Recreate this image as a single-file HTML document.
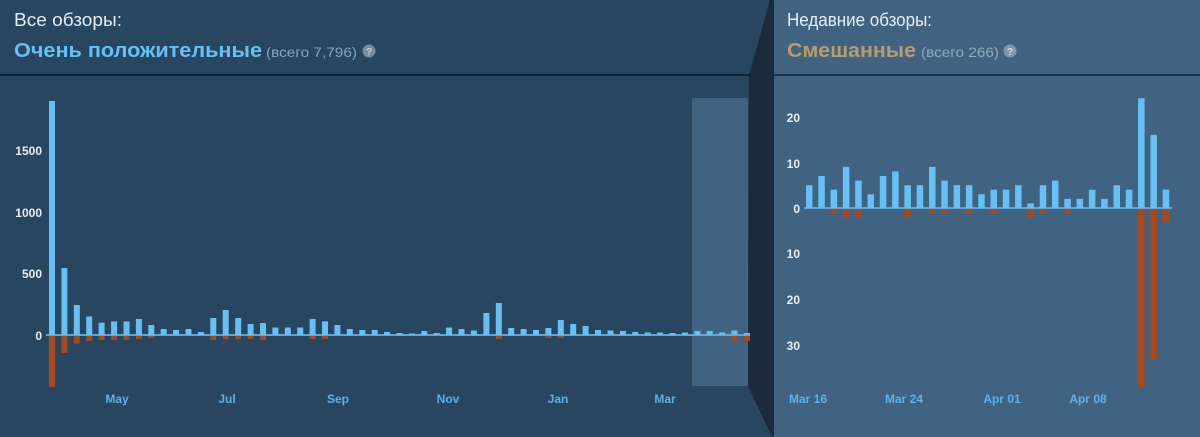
<!DOCTYPE html>
<html><head><meta charset="utf-8"><style>
html,body{margin:0;padding:0;width:1200px;height:437px;overflow:hidden;background:#1c2a3c;font-family:"Liberation Sans",sans-serif}
</style></head><body>
<svg width="1200" height="437" xmlns="http://www.w3.org/2000/svg" style="position:absolute;left:0;top:0">
<rect x="0" y="0" width="1200" height="437" fill="#1c2a3c"/>
<polygon points="0,0 770,0 749,75 748,386 772,437 0,437" fill="#284660"/>
<rect x="774" y="0" width="426" height="437" fill="#416382"/>
<rect x="692" y="98" width="56" height="288" fill="#416382"/>
<rect x="0" y="74" width="750" height="2" fill="#142131"/>
<rect x="774" y="74" width="426" height="2" fill="#1c3048"/>
<g font-family="Liberation Sans, sans-serif">
<text x="14" y="26" font-size="18" fill="#e6eef4" textLength="108" lengthAdjust="spacingAndGlyphs">Все обзоры:</text>
<text x="14" y="57" font-size="20" font-weight="bold" fill="#66c0f4" textLength="248" lengthAdjust="spacingAndGlyphs">Очень положительные</text>
<text x="266" y="57" font-size="14" fill="#8aa4b8" textLength="91" lengthAdjust="spacingAndGlyphs">(всего 7,796)</text>
<circle cx="369" cy="51" r="6.5" fill="#7a8c9c"/><text x="369" y="55" font-size="10" font-weight="bold" fill="#c8d4dc" text-anchor="middle">?</text>
<text x="787" y="26" font-size="18" fill="#e6eef4" textLength="145" lengthAdjust="spacingAndGlyphs">Недавние обзоры:</text>
<text x="787" y="57" font-size="20" font-weight="bold" fill="#b99c6b" textLength="129" lengthAdjust="spacingAndGlyphs">Смешанные</text>
<text x="921" y="57" font-size="14" fill="#8fa9bd" textLength="78" lengthAdjust="spacingAndGlyphs">(всего 266)</text>
<circle cx="1010" cy="51" r="6.5" fill="#8296a8"/><text x="1010" y="55" font-size="10" font-weight="bold" fill="#d0dae2" text-anchor="middle">?</text>
</g>
<g font-family="Liberation Sans, sans-serif" font-size="12" font-weight="bold" fill="#e8eef2" text-anchor="end">
<text x="42" y="155">1500</text><text x="42" y="217">1000</text><text x="42" y="278">500</text><text x="42" y="340">0</text>
<text x="800" y="122">20</text><text x="800" y="168">10</text><text x="800" y="213">0</text>
<text x="800" y="258">10</text><text x="800" y="304">20</text><text x="800" y="350">30</text>
</g>
<g font-family="Liberation Sans, sans-serif" font-size="12" font-weight="bold" fill="#5fb0e6" text-anchor="middle">
<text x="117" y="403">May</text><text x="227" y="403">Jul</text><text x="338" y="403">Sep</text><text x="448" y="403">Nov</text><text x="558" y="403">Jan</text><text x="665" y="403">Mar</text>
<text x="808" y="403">Mar 16</text><text x="904" y="403">Mar 24</text><text x="1002" y="403">Apr 01</text><text x="1088" y="403">Apr 08</text>
</g>
<rect x="46" y="334" width="704" height="2" fill="#5fa5d6"/>
<g fill="#66c0f4">
<rect x="49" y="101" width="6" height="234"/><rect x="61.4" y="268" width="6" height="67"/><rect x="73.8" y="305" width="6" height="30"/><rect x="86.2" y="316.5" width="6" height="18.5"/>
<rect x="98.6" y="322.7" width="6" height="12.3"/><rect x="111.1" y="321.4" width="6" height="13.6"/><rect x="123.5" y="321.4" width="6" height="13.6"/><rect x="135.9" y="319" width="6" height="16"/>
<rect x="148.3" y="325" width="6" height="10"/><rect x="160.7" y="329" width="6" height="6"/><rect x="173.1" y="330" width="6" height="5"/><rect x="185.5" y="329" width="6" height="6"/>
<rect x="197.9" y="332" width="6" height="3"/><rect x="210.3" y="318" width="6" height="17"/><rect x="222.7" y="310" width="6" height="25"/><rect x="235.2" y="318" width="6" height="17"/>
<rect x="247.6" y="324" width="6" height="11"/><rect x="260" y="323" width="6" height="12"/><rect x="272.4" y="327.5" width="6" height="7.5"/><rect x="284.8" y="327.5" width="6" height="7.5"/>
<rect x="297.2" y="327.5" width="6" height="7.5"/><rect x="309.6" y="319" width="6" height="16"/><rect x="322" y="321.4" width="6" height="13.6"/><rect x="334.4" y="325" width="6" height="10"/>
<rect x="346.8" y="329" width="6" height="6"/><rect x="359.3" y="330" width="6" height="5"/><rect x="371.7" y="330" width="6" height="5"/><rect x="384.1" y="332" width="6" height="3"/>
<rect x="396.5" y="333" width="6" height="2"/><rect x="408.9" y="333.5" width="6" height="1.5"/><rect x="421.3" y="331" width="6" height="4"/><rect x="433.7" y="333" width="6" height="2"/>
<rect x="446.1" y="327.5" width="6" height="7.5"/><rect x="458.5" y="329" width="6" height="6"/><rect x="470.9" y="330.5" width="6" height="4.5"/><rect x="483.4" y="313" width="6" height="22"/>
<rect x="495.8" y="303" width="6" height="32"/><rect x="508.2" y="328" width="6" height="7"/><rect x="520.6" y="329" width="6" height="6"/><rect x="533" y="330" width="6" height="5"/>
<rect x="545.4" y="328" width="6" height="7"/><rect x="557.8" y="320" width="6" height="15"/><rect x="570.2" y="324" width="6" height="11"/><rect x="582.6" y="326" width="6" height="9"/>
<rect x="595" y="330" width="6" height="5"/><rect x="607.5" y="330.5" width="6" height="4.5"/><rect x="619.9" y="331" width="6" height="4"/><rect x="632.3" y="332" width="6" height="3"/>
<rect x="644.7" y="332.5" width="6" height="2.5"/><rect x="657.1" y="332.5" width="6" height="2.5"/><rect x="669.5" y="333" width="6" height="2"/><rect x="681.9" y="332.5" width="6" height="2.5"/>
<rect x="694.3" y="331" width="6" height="4"/><rect x="706.7" y="331" width="6" height="4"/><rect x="719.1" y="332.5" width="6" height="2.5"/><rect x="731.5" y="330.5" width="6" height="4.5"/>
<rect x="743.9" y="333" width="6" height="2"/>
</g>
<g fill="#a6491f">
<rect x="49" y="336" width="6" height="51"/><rect x="61.4" y="336" width="6" height="17"/><rect x="73.8" y="336" width="6" height="7.5"/><rect x="86.2" y="336" width="6" height="5"/>
<rect x="98.6" y="336" width="6" height="4"/><rect x="111.1" y="336" width="6" height="4"/><rect x="123.5" y="336" width="6" height="4"/><rect x="135.9" y="336" width="6" height="3"/>
<rect x="148.3" y="336" width="6" height="2"/><rect x="210.3" y="336" width="6" height="4"/><rect x="222.7" y="336" width="6" height="3"/><rect x="235.2" y="336" width="6" height="3"/>
<rect x="247.6" y="336" width="6" height="3"/><rect x="260" y="336" width="6" height="4"/><rect x="309.6" y="336" width="6" height="3"/><rect x="322" y="336" width="6" height="3"/>
<rect x="495.8" y="336" width="6" height="3"/><rect x="545.4" y="336" width="6" height="2"/><rect x="557.8" y="336" width="6" height="2"/><rect x="731.5" y="336" width="6" height="5"/><rect x="743.9" y="336" width="6" height="5"/>
</g>
<rect x="804" y="207" width="368" height="2" fill="#5fa5d6"/>
<g fill="#66c0f4">
<rect x="806" y="185.2" width="6.5" height="22.8"/><rect x="818.3" y="176" width="6.5" height="32"/><rect x="830.6" y="189.7" width="6.5" height="18.3"/><rect x="842.9" y="166.9" width="6.5" height="41.1"/>
<rect x="855.2" y="180.6" width="6.5" height="27.4"/><rect x="867.5" y="194.3" width="6.5" height="13.7"/><rect x="879.8" y="176" width="6.5" height="32"/><rect x="892.1" y="171.4" width="6.5" height="36.6"/>
<rect x="904.4" y="185.2" width="6.5" height="22.8"/><rect x="916.7" y="185.2" width="6.5" height="22.8"/><rect x="929" y="166.9" width="6.5" height="41.1"/><rect x="941.3" y="180.6" width="6.5" height="27.4"/>
<rect x="953.6" y="185.2" width="6.5" height="22.8"/><rect x="965.9" y="185.2" width="6.5" height="22.8"/><rect x="978.2" y="194.3" width="6.5" height="13.7"/><rect x="990.5" y="189.7" width="6.5" height="18.3"/>
<rect x="1002.8" y="189.7" width="6.5" height="18.3"/><rect x="1015.1" y="185.2" width="6.5" height="22.8"/><rect x="1027.4" y="203.4" width="6.5" height="4.6"/><rect x="1039.7" y="185.2" width="6.5" height="22.8"/>
<rect x="1052" y="180.6" width="6.5" height="27.4"/><rect x="1064.3" y="198.9" width="6.5" height="9.1"/><rect x="1076.6" y="198.9" width="6.5" height="9.1"/><rect x="1088.9" y="189.7" width="6.5" height="18.3"/>
<rect x="1101.2" y="198.9" width="6.5" height="9.1"/><rect x="1113.5" y="185.2" width="6.5" height="22.8"/><rect x="1125.8" y="189.7" width="6.5" height="18.3"/><rect x="1138.1" y="98.3" width="6.5" height="109.7"/>
<rect x="1150.4" y="134.9" width="6.5" height="73.1"/><rect x="1162.7" y="189.7" width="6.5" height="18.3"/>
</g>
<g fill="#a6491f">
<rect x="830.6" y="209" width="6.5" height="4.6"/><rect x="842.9" y="209" width="6.5" height="9.1"/><rect x="855.2" y="209" width="6.5" height="9.1"/><rect x="904.4" y="209" width="6.5" height="9.1"/>
<rect x="929" y="209" width="6.5" height="4.6"/><rect x="941.3" y="209" width="6.5" height="4.6"/><rect x="965.9" y="209" width="6.5" height="4.6"/><rect x="990.5" y="209" width="6.5" height="4.6"/>
<rect x="1027.4" y="209" width="6.5" height="9.1"/><rect x="1039.7" y="209" width="6.5" height="4.6"/><rect x="1064.3" y="209" width="6.5" height="4.6"/>
<rect x="1138.1" y="209" width="6.5" height="178"/><rect x="1150.4" y="209" width="6.5" height="151"/><rect x="1162.7" y="209" width="6.5" height="13.7"/>
</g>
</svg>
</body></html>
